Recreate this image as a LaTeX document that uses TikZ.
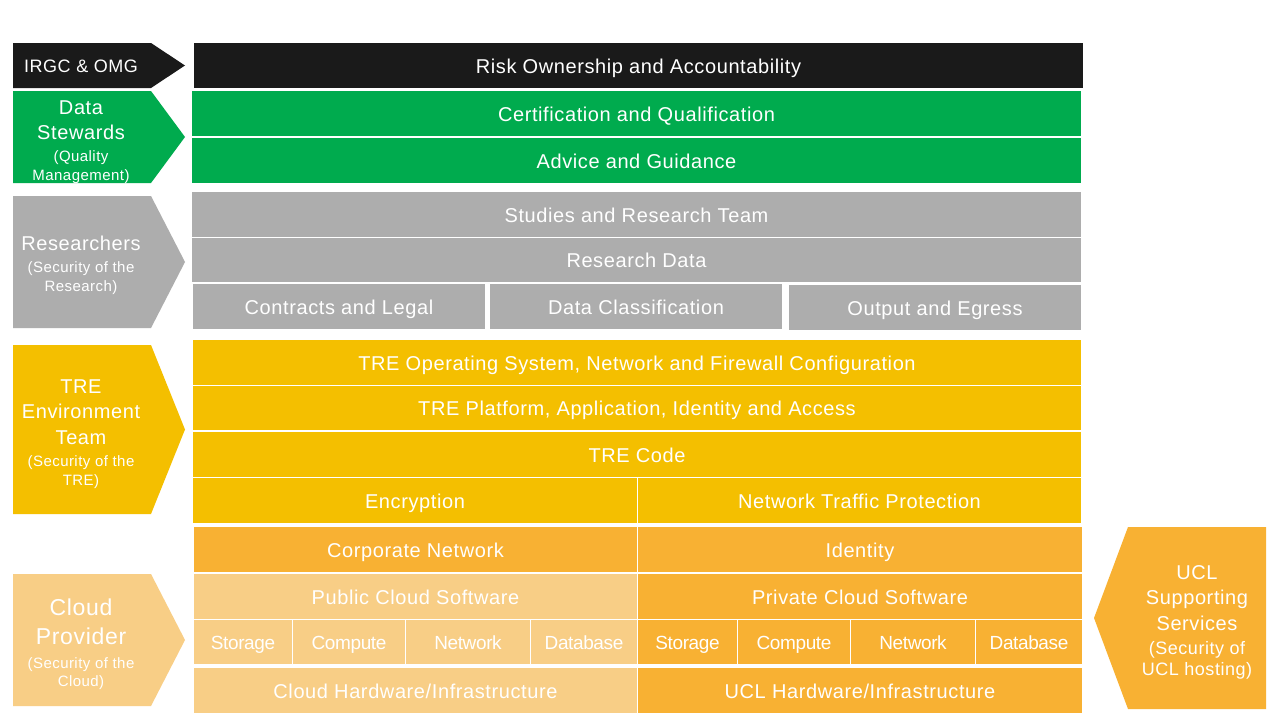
\documentclass[tikz,border=0pt]{standalone}
\usepackage{fontspec}
\setmainfont{Liberation Sans}[LetterSpace=3]
\newfontfamily\tightfont{Liberation Sans}[LetterSpace=-2]
\definecolor{cblack}{HTML}{1A1A1A}
\definecolor{cgreen}{HTML}{00AB4E}
\definecolor{cgray}{HTML}{ADADAD}
\definecolor{cgold}{HTML}{F4BF00}
\definecolor{corange}{HTML}{F8B133}
\definecolor{clight}{HTML}{F8CE86}
\newcommand{\smx}{\fontsize{15}{19}\selectfont}
\newcommand{\cellbox}[7]{\node[cellst,fill=#6,minimum width={#4pt-#2pt},minimum height={#5pt-#3pt}] (#1) at ({(#2+#4)/2},{(#3+#5)/2}) {#7};}
\newcommand{\chevL}[4]{\fill[#4] (13,#1) -- (151,#1) -- (185,#3) -- (151,#2) -- (13,#2) -- cycle;}
\begin{document}
\begin{tikzpicture}[x=1pt,y=-1pt,
  cellst/.style={rectangle,inner sep=0pt,text=white,text height=15.5pt,text depth=0pt,font=\fontsize{20}{24}\selectfont},
  lab/.style={text=white,align=center,inner sep=0pt,font=\fontsize{20}{25.5}\selectfont}]
\useasboundingbox[fill=white] (0,0) rectangle (1280,720);
% ---- left chevrons
\chevL{43}{88}{65.5}{cblack}
\node[lab,font=\fontsize{18}{22}\selectfont] (irgc) at (81,66) {IRGC \& OMG};
\chevL{91}{183}{137}{cgreen}
\node[lab] (ds) at (81,142) {Data\\Stewards\\[-4pt]\smx (Quality\\[-6.5pt]\smx Management)};
\chevL{196}{328}{262}{cgray}
\node[lab] (res) at (81,265.5) {Researchers\\[-3.5pt]\smx (Security of the\\[-6.5pt]\smx Research)};
\chevL{345}{514}{429.5}{cgold}
\node[lab] (tre) at (81,434) {TRE\\Environment\\Team\\[-3.5pt]\smx (Security of the\\[-6.5pt]\smx TRE)};
\chevL{574}{706}{640}{clight}
\node[lab,font=\fontsize{23}{29}\selectfont] (cloud) at (81,644) {Cloud\\Provider\\[-5pt]\smx (Security of the\\[-11pt]\smx Cloud)};
% ---- right chevron
\fill[corange] (1266,527) -- (1128,527) -- (1094,618) -- (1128,709) -- (1266,709) -- cycle;
\node[lab] (ucl) at (1197,622) {UCL\\Supporting\\Services\\[-1.5pt]\fontsize{18}{21}\selectfont (Security of\\[-4.5pt]\fontsize{18}{21}\selectfont UCL hosting)};
% ---- main blocks
\cellbox{risk}{194}{43}{1083}{88}{cblack}{Risk Ownership and Accountability}
\cellbox{cert}{192}{91}{1081}{136}{cgreen}{Certification and Qualification}
\cellbox{adv}{192}{138}{1081}{183}{cgreen}{Advice and Guidance}
\cellbox{stud}{192}{192}{1081}{237}{cgray}{Studies and Research Team}
\cellbox{rdata}{192}{238}{1081}{282}{cgray}{Research Data}
\cellbox{contr}{193}{284}{485}{329}{cgray}{Contracts and Legal}
\cellbox{dclass}{490}{284}{782}{329}{cgray}{Data Classification}
\cellbox{outp}{789}{285}{1081}{330}{cgray}{Output and Egress}
\cellbox{treos}{193}{340}{1081}{385}{cgold}{TRE Operating System, Network and Firewall Configuration}
\cellbox{trepl}{193}{386}{1081}{430}{cgold}{TRE Platform, Application, Identity and Access}
\cellbox{trecode}{193}{432}{1081}{477}{cgold}{TRE Code}
\cellbox{encr}{193}{478}{637}{523}{cgold}{Encryption}
\cellbox{ntp}{638}{478}{1081}{523}{cgold}{Network Traffic Protection}
\cellbox{corp}{194}{527}{637}{572}{corange}{Corporate Network}
\cellbox{ident}{638}{527}{1082}{572}{corange}{Identity}
\cellbox{pubsw}{194}{574}{637}{619}{clight}{Public Cloud Software}
\cellbox{privsw}{638}{574}{1082}{619}{corange}{Private Cloud Software}
\begin{scope}[cellst/.append style={font=\tightfont\fontsize{19}{23}\selectfont,text height=14.5pt}]
\cellbox{pstor}{194}{620}{292}{664}{clight}{Storage}
\cellbox{pcomp}{293}{620}{405}{664}{clight}{Compute}
\cellbox{pnet}{406}{620}{530}{664}{clight}{Network}
\cellbox{pdb}{531}{620}{637}{664}{clight}{Database}
\cellbox{vstor}{638}{620}{737}{664}{corange}{Storage}
\cellbox{vcomp}{738}{620}{850}{664}{corange}{Compute}
\cellbox{vnet}{851}{620}{975}{664}{corange}{Network}
\cellbox{vdb}{976}{620}{1082}{664}{corange}{Database}
\end{scope}
\cellbox{chw}{194}{668}{637}{713}{clight}{Cloud Hardware/Infrastructure}
\cellbox{uhw}{638}{668}{1082}{713}{corange}{UCL Hardware/Infrastructure}
\end{tikzpicture}
\end{document}
